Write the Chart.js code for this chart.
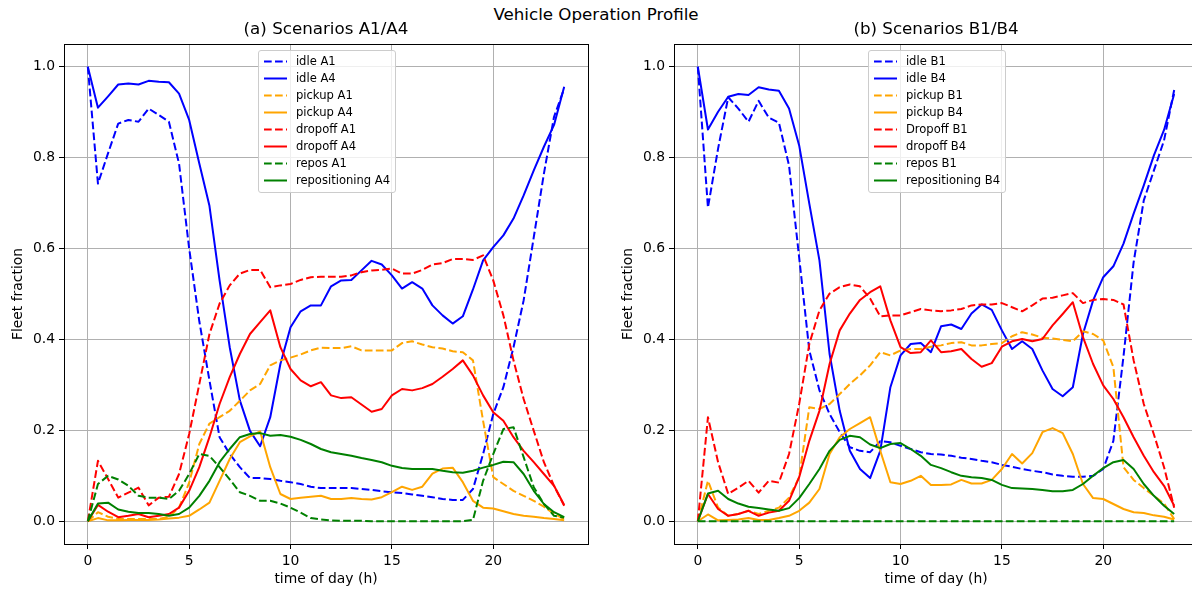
<!DOCTYPE html>
<html>
<head>
<meta charset="utf-8">
<title>Vehicle Operation Profile</title>
<script src="https://cdn.jsdelivr.net/npm/chart.js@4/dist/chart.umd.min.js"></script>
<style>
    html, body { margin: 0; padding: 0; background: #fff; }
    body {
        width: 1192px; height: 594px; overflow: hidden; position: relative;
        font-family: 'DejaVu Sans', sans-serif; color: #000;
    }
    .suptitle {
        position: absolute; top: 4px; left: 0; width: 1192px;
        text-align: center; font-size: 16.7px; line-height: 20px;
    }
    .panel { position: absolute; top: 0; width: 600px; height: 594px; }
    .panel canvas { position: absolute; left: 0; top: 0; }
    .legend {
        position: absolute; left: 258px; top: 50px;
        padding: 1.5px 4.6px 3px 4.6px;
        background: rgba(255, 255, 255, 0.8);
        border: 1px solid #cccccc; border-radius: 3px;
        font-size: 11.57px;
    }
    .legend-row { display: flex; align-items: center; height: 17.05px; white-space: nowrap; }
    .legend-row svg { margin-right: 9.3px; flex: none; }
</style>
</head>
<body>
<div class="suptitle">Vehicle Operation Profile</div>
<div class="panel" style="left:0px"><canvas id="chartA" width="600" height="594"></canvas><div class="legend" id="legendA"></div></div>
<div class="panel" style="left:610px"><canvas id="chartB" width="600" height="594"></canvas><div class="legend" id="legendB"></div></div>

<script>
// time of day (h), one sample every half hour
const hours = [0, 0.5, 1, 1.5, 2, 2.5, 3, 3.5, 4, 4.5, 5, 5.5, 6, 6.5, 7, 7.5, 8, 8.5, 9, 9.5,
    10, 10.5, 11, 11.5, 12, 12.5, 13, 13.5, 14, 14.5, 15, 15.5, 16, 16.5, 17, 17.5, 18, 18.5, 19, 19.5,
    20, 20.5, 21, 21.5, 22, 22.5, 23, 23.5];

const xTicks = [0, 5, 10, 15, 20];
const yTicks = [0.0, 0.2, 0.4, 0.6, 0.8, 1.0];

// (a) Scenarios A1/A4
const idleA1 = [1.0, 0.743, 0.81, 0.875, 0.883, 0.879, 0.908, 0.894, 0.879, 0.787, 0.6, 0.44, 0.31, 0.185, 0.148, 0.119, 0.095, 0.095, 0.093, 0.089, 0.086, 0.082, 0.076, 0.073, 0.073, 0.073, 0.073, 0.071, 0.069, 0.066, 0.064, 0.062, 0.059, 0.056, 0.053, 0.049, 0.047, 0.047, 0.071, 0.148, 0.236, 0.295, 0.383, 0.486, 0.625, 0.765, 0.89, 0.952];
const idleA4 = [1.0, 0.91, 0.935, 0.961, 0.963, 0.961, 0.969, 0.967, 0.966, 0.941, 0.883, 0.787, 0.694, 0.53, 0.383, 0.266, 0.199, 0.165, 0.229, 0.346, 0.427, 0.462, 0.475, 0.475, 0.517, 0.53, 0.531, 0.552, 0.573, 0.565, 0.541, 0.512, 0.526, 0.512, 0.475, 0.453, 0.435, 0.451, 0.51, 0.574, 0.603, 0.629, 0.666, 0.717, 0.772, 0.824, 0.872, 0.956];
const pickupA1 = [0, 0.02, 0.01, 0.005, 0.005, 0.005, 0.005, 0.005, 0.01, 0.03, 0.085, 0.17, 0.215, 0.229, 0.243, 0.265, 0.288, 0.302, 0.343, 0.354, 0.36, 0.367, 0.376, 0.382, 0.381, 0.381, 0.385, 0.376, 0.376, 0.376, 0.376, 0.392, 0.396, 0.389, 0.383, 0.38, 0.374, 0.372, 0.354, 0.221, 0.097, 0.082, 0.067, 0.056, 0.045, 0.032, 0.016, 0.005];
const pickupA4 = [0, 0.007, 0.002, 0.002, 0.003, 0.003, 0.003, 0.004, 0.006, 0.008, 0.012, 0.026, 0.041, 0.089, 0.137, 0.174, 0.187, 0.198, 0.119, 0.06, 0.049, 0.052, 0.054, 0.056, 0.049, 0.049, 0.051, 0.049, 0.048, 0.053, 0.064, 0.076, 0.069, 0.076, 0.105, 0.116, 0.118, 0.086, 0.045, 0.03, 0.028, 0.022, 0.016, 0.012, 0.01, 0.007, 0.005, 0.002];
const dropoffA1 = [0, 0.133, 0.093, 0.052, 0.063, 0.074, 0.035, 0.052, 0.054, 0.104, 0.192, 0.302, 0.412, 0.479, 0.519, 0.545, 0.553, 0.553, 0.515, 0.519, 0.522, 0.531, 0.537, 0.538, 0.538, 0.538, 0.541, 0.548, 0.552, 0.553, 0.556, 0.545, 0.545, 0.553, 0.565, 0.568, 0.577, 0.577, 0.575, 0.585, 0.53, 0.453, 0.354, 0.269, 0.199, 0.13, 0.078, 0.034];
const dropoffA4 = [0, 0.036, 0.021, 0.009, 0.012, 0.016, 0.009, 0.012, 0.016, 0.03, 0.067, 0.119, 0.185, 0.258, 0.317, 0.368, 0.412, 0.438, 0.464, 0.383, 0.335, 0.31, 0.297, 0.306, 0.277, 0.271, 0.273, 0.257, 0.241, 0.247, 0.277, 0.291, 0.288, 0.293, 0.302, 0.318, 0.335, 0.354, 0.321, 0.277, 0.24, 0.221, 0.185, 0.155, 0.13, 0.104, 0.078, 0.036];
const reposA1 = [0, 0.082, 0.1, 0.092, 0.078, 0.056, 0.052, 0.052, 0.049, 0.067, 0.104, 0.148, 0.144, 0.119, 0.092, 0.064, 0.056, 0.045, 0.045, 0.039, 0.03, 0.019, 0.007, 0.004, 0.002, 0.001, 0.001, 0.001, 0, 0, 0, 0, 0, 0, 0, 0, 0, 0, 0.003, 0.089, 0.148, 0.203, 0.207, 0.141, 0.075, 0.038, 0.012, 0.008];
const reposA4 = [0, 0.039, 0.041, 0.026, 0.021, 0.018, 0.018, 0.016, 0.012, 0.016, 0.03, 0.056, 0.089, 0.13, 0.159, 0.185, 0.192, 0.194, 0.188, 0.19, 0.186, 0.179, 0.17, 0.159, 0.152, 0.148, 0.144, 0.139, 0.135, 0.13, 0.122, 0.117, 0.115, 0.115, 0.115, 0.111, 0.108, 0.107, 0.111, 0.118, 0.124, 0.131, 0.13, 0.104, 0.067, 0.038, 0.02, 0.009];

// (b) Scenarios B1/B4
const idleB1 = [1.0, 0.69, 0.82, 0.933, 0.908, 0.879, 0.925, 0.888, 0.877, 0.783, 0.58, 0.376, 0.288, 0.236, 0.196, 0.163, 0.155, 0.152, 0.176, 0.174, 0.166, 0.159, 0.152, 0.148, 0.147, 0.144, 0.14, 0.137, 0.133, 0.13, 0.124, 0.12, 0.115, 0.111, 0.108, 0.103, 0.1, 0.098, 0.098, 0.1, 0.115, 0.177, 0.363, 0.57, 0.706, 0.772, 0.838, 0.949];
const idleB4 = [1.0, 0.862, 0.901, 0.934, 0.94, 0.938, 0.955, 0.95, 0.947, 0.908, 0.827, 0.699, 0.574, 0.368, 0.243, 0.155, 0.115, 0.095, 0.155, 0.295, 0.365, 0.39, 0.392, 0.372, 0.429, 0.433, 0.423, 0.457, 0.477, 0.465, 0.42, 0.379, 0.396, 0.379, 0.332, 0.291, 0.275, 0.295, 0.412, 0.486, 0.537, 0.561, 0.611, 0.677, 0.739, 0.805, 0.861, 0.94];
const pickupB1 = [0, 0.089, 0.03, 0.012, 0.016, 0.023, 0.016, 0.023, 0.03, 0.052, 0.097, 0.251, 0.247, 0.258, 0.28, 0.302, 0.321, 0.343, 0.372, 0.365, 0.376, 0.379, 0.379, 0.384, 0.387, 0.392, 0.394, 0.387, 0.387, 0.39, 0.392, 0.407, 0.416, 0.411, 0.404, 0.402, 0.399, 0.396, 0.418, 0.412, 0.398, 0.339, 0.119, 0.091, 0.073, 0.056, 0.039, 0.005];
const pickupB4 = [0, 0.015, 0.002, 0.003, 0.004, 0.007, 0.003, 0.003, 0.007, 0.012, 0.023, 0.041, 0.071, 0.148, 0.185, 0.203, 0.216, 0.229, 0.155, 0.086, 0.082, 0.089, 0.1, 0.08, 0.08, 0.081, 0.091, 0.083, 0.083, 0.091, 0.115, 0.148, 0.127, 0.15, 0.196, 0.205, 0.194, 0.148, 0.082, 0.051, 0.049, 0.038, 0.027, 0.02, 0.018, 0.013, 0.01, 0.004];
const dropoffB1 = [0, 0.229, 0.13, 0.06, 0.074, 0.089, 0.063, 0.089, 0.085, 0.148, 0.258, 0.39, 0.464, 0.501, 0.515, 0.521, 0.517, 0.49, 0.451, 0.453, 0.453, 0.46, 0.467, 0.464, 0.462, 0.464, 0.467, 0.475, 0.477, 0.477, 0.48, 0.471, 0.462, 0.475, 0.49, 0.492, 0.497, 0.502, 0.48, 0.487, 0.489, 0.487, 0.477, 0.354, 0.258, 0.191, 0.119, 0.03];
const dropoffB4 = [0, 0.06, 0.027, 0.012, 0.016, 0.023, 0.012, 0.019, 0.023, 0.045, 0.097, 0.177, 0.243, 0.346, 0.42, 0.457, 0.487, 0.504, 0.517, 0.442, 0.383, 0.37, 0.372, 0.398, 0.372, 0.374, 0.379, 0.357, 0.34, 0.348, 0.384, 0.396, 0.401, 0.396, 0.401, 0.431, 0.456, 0.482, 0.405, 0.346, 0.299, 0.269, 0.229, 0.185, 0.144, 0.108, 0.078, 0.034];
const reposB1 = [0, 0, 0, 0, 0, 0, 0, 0, 0, 0, 0, 0, 0, 0, 0, 0, 0, 0, 0, 0, 0, 0, 0, 0, 0, 0, 0, 0, 0, 0, 0, 0, 0, 0, 0, 0, 0, 0, 0, 0, 0, 0, 0, 0, 0, 0, 0, 0];
const reposB4 = [0, 0.061, 0.067, 0.049, 0.039, 0.032, 0.029, 0.026, 0.023, 0.029, 0.051, 0.082, 0.115, 0.155, 0.179, 0.188, 0.185, 0.169, 0.161, 0.17, 0.172, 0.159, 0.144, 0.124, 0.117, 0.108, 0.1, 0.097, 0.095, 0.091, 0.08, 0.073, 0.072, 0.071, 0.069, 0.066, 0.066, 0.069, 0.082, 0.1, 0.117, 0.13, 0.135, 0.115, 0.082, 0.056, 0.034, 0.016];

const FONT = "'DejaVu Sans', sans-serif";
const DASH = [7.7, 3.3];

// draws the axes box (matplotlib spines)
const framePlugin = {
    id: 'frame',
    afterDraw(chart) {
        const { ctx, chartArea: a } = chart;
        ctx.save();
        ctx.strokeStyle = '#000';
        ctx.lineWidth = 1;
        ctx.strokeRect(Math.round(a.left) + 0.5, Math.round(a.top) + 0.5,
            Math.round(a.right - a.left), Math.round(a.bottom - a.top));
        ctx.restore();
    }
};

class ProfilePanel {
    constructor(canvasId, legendId, title) {
        this.canvas = document.getElementById(canvasId);
        this.legend = document.getElementById(legendId);
        this.title = title;
    }

    series(label, values, color, dashed) {
        return {
            label: label,
            data: hours.map((h, i) => ({ x: h, y: values[i] })),
            borderColor: color,
            borderWidth: 2,
            borderDash: dashed ? DASH : [],
            borderJoinStyle: 'round',
            pointRadius: 0,
            fill: false,
            tension: 0
        };
    }

    render(datasets) {
        // later series are drawn on top, as in the original plot
        datasets.forEach((d, i) => { d.order = datasets.length - i; });

        const tickFont = { family: FONT, size: 13.9 };
        const grid = { color: '#b0b0b0', lineWidth: 1, tickColor: '#000', tickLength: 5, tickWidth: 1 };

        new Chart(this.canvas.getContext('2d'), {
            type: 'line',
            data: { datasets: datasets },
            options: {
                responsive: false,
                animation: false,
                devicePixelRatio: 1,
                layout: { padding: { left: 0, right: 12, top: 0, bottom: 0 } },
                plugins: {
                    legend: { display: false },
                    tooltip: { enabled: false },
                    title: {
                        display: true, text: this.title, fullSize: false, color: '#000',
                        font: { family: FONT, size: 16.7, weight: 'normal' },
                        padding: { top: 20, bottom: 4 }
                    }
                },
                scales: {
                    x: {
                        type: 'linear', min: -1.175, max: 24.675,
                        afterBuildTicks: s => { s.ticks = xTicks.map(v => ({ value: v })); },
                        afterFit: s => { s.height = 50; },
                        ticks: { color: '#000', font: tickFont, padding: 4, maxRotation: 0, callback: v => String(v) },
                        grid: grid,
                        border: { display: false },
                        title: {
                            display: true, text: 'time of day (h)', color: '#000',
                            font: { family: FONT, size: 13.9 }, padding: { top: 0, bottom: 6.7 }
                        }
                    },
                    y: {
                        type: 'linear', min: -0.05, max: 1.05,
                        afterBuildTicks: s => { s.ticks = yTicks.map(v => ({ value: v })); },
                        afterFit: s => { s.width = 64; },
                        ticks: { color: '#000', font: tickFont, padding: 4, callback: v => v.toFixed(1) },
                        grid: grid,
                        border: { display: false },
                        title: {
                            display: true, text: 'Fleet fraction', color: '#000',
                            font: { family: FONT, size: 13.9 }, padding: { top: 9.7, bottom: 0 }
                        }
                    }
                }
            },
            plugins: [framePlugin]
        });

        this.renderLegend(datasets);
    }

    renderLegend(datasets) {
        this.legend.innerHTML = datasets.map(d => `
            <div class="legend-row">
                <svg width="23" height="17"><line x1="0" y1="8.5" x2="23" y2="8.5" stroke="${d.borderColor}" stroke-width="2"
                    ${d.borderDash.length ? `stroke-dasharray="${DASH.join(' ')}"` : ''}/></svg>
                <span>${d.label}</span>
            </div>`).join('');
    }
}

const panelA = new ProfilePanel('chartA', 'legendA', '(a) Scenarios A1/A4');
panelA.render([
    panelA.series('idle A1', idleA1, '#0000ff', true),
    panelA.series('idle A4', idleA4, '#0000ff', false),
    panelA.series('pickup A1', pickupA1, '#ffa500', true),
    panelA.series('pickup A4', pickupA4, '#ffa500', false),
    panelA.series('dropoff A1', dropoffA1, '#ff0000', true),
    panelA.series('dropoff A4', dropoffA4, '#ff0000', false),
    panelA.series('repos A1', reposA1, '#008000', true),
    panelA.series('repositioning A4', reposA4, '#008000', false)
]);

const panelB = new ProfilePanel('chartB', 'legendB', '(b) Scenarios B1/B4');
panelB.render([
    panelB.series('idle B1', idleB1, '#0000ff', true),
    panelB.series('idle B4', idleB4, '#0000ff', false),
    panelB.series('pickup B1', pickupB1, '#ffa500', true),
    panelB.series('pickup B4', pickupB4, '#ffa500', false),
    panelB.series('Dropoff B1', dropoffB1, '#ff0000', true),
    panelB.series('dropoff B4', dropoffB4, '#ff0000', false),
    panelB.series('repos B1', reposB1, '#008000', true),
    panelB.series('repositioning B4', reposB4, '#008000', false)
]);
</script>
</body>
</html>
